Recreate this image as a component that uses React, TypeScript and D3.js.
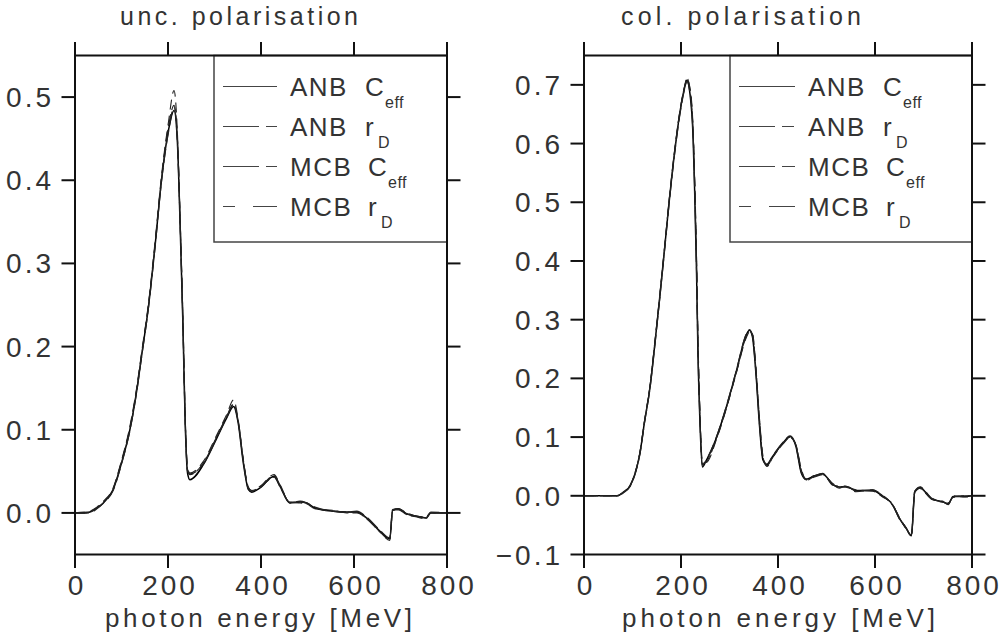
import React from "react";
import * as d3 from "d3";

// ---------- data ----------
const xTicks = [0, 200, 400, 600, 800];
const uncYTicks = [0.0, 0.1, 0.2, 0.3, 0.4, 0.5];
const colYTicks = [-0.1, 0.0, 0.1, 0.2, 0.3, 0.4, 0.5, 0.6, 0.7];
const legendNames = ["ANB", "ANB", "MCB", "MCB"];
const legendSymbols = ["C", "r", "C", "r"];
const legendSubs = ["eff", "D", "eff", "D"];

const uncEnergy = [0,20,32,47,61,82,100,118,133,143,158,172,186,201,213,220,226,232,237,242,247,276,305,326,341,351,362,373,380,398,428,441,462,484,498,516,556,584,606,627,656,677,683,695,713,735,755,765,800];
const uncAnbC = [0,0,0.001,0.006,0.012,0.028,0.06,0.10,0.148,0.188,0.248,0.32,0.40,0.46,0.484,0.448,0.348,0.228,0.108,0.048,0.040,0.058,0.09,0.114,0.128,0.108,0.06,0.028,0.025,0.03,0.044,0.032,0.012,0.013,0.012,0.006,0.002,0.001,0.001,-0.006,-0.022,-0.031,0.003,0.005,-0.001,-0.004,-0.006,0.0,0];
const uncAnbR = [0,0,0.001,0.006,0.013,0.029,0.062,0.102,0.15,0.19,0.25,0.322,0.402,0.465,0.49,0.452,0.35,0.23,0.11,0.05,0.046,0.06,0.092,0.116,0.131,0.11,0.062,0.03,0.027,0.031,0.043,0.031,0.013,0.012,0.011,0.005,0.003,0.0,0.0,-0.007,-0.023,-0.032,0.002,0.004,-0.002,-0.005,-0.007,0.0,0];
const uncMcbC = [0,0.001,0.0,0.005,0.012,0.027,0.059,0.099,0.147,0.187,0.247,0.319,0.399,0.458,0.488,0.45,0.352,0.232,0.112,0.052,0.047,0.059,0.091,0.115,0.13,0.11,0.063,0.029,0.026,0.031,0.045,0.033,0.012,0.014,0.012,0.007,0.002,0.001,0.002,-0.005,-0.021,-0.03,0.004,0.005,0.0,-0.004,-0.005,0.001,0];
const uncMcbR = [0,0,0.002,0.007,0.014,0.03,0.063,0.104,0.152,0.192,0.252,0.325,0.405,0.47,0.508,0.46,0.355,0.235,0.115,0.055,0.048,0.062,0.094,0.118,0.136,0.112,0.064,0.031,0.027,0.032,0.046,0.034,0.013,0.013,0.012,0.006,0.002,0.001,0.001,-0.006,-0.023,-0.033,0.003,0.004,-0.001,-0.004,-0.006,0.0,0];

const colEnergy = [0,40,68,81,95,105,115,125,136,146,156,167,175,187,197,208,212,218,225,228,232,235,239,244,252,273,293,314,335,341,347,355,362,369,377,389,410,425,437,448,458,475,492,513,526,540,561,595,616,636,650,664,675,682,694,705,718,739,751,761,787,800];
const colAnbC = [0,0,0,0.006,0.017,0.037,0.071,0.127,0.184,0.258,0.337,0.428,0.496,0.586,0.649,0.697,0.708,0.688,0.609,0.524,0.382,0.241,0.127,0.049,0.06,0.099,0.15,0.212,0.275,0.282,0.272,0.203,0.118,0.061,0.053,0.067,0.09,0.101,0.084,0.039,0.028,0.034,0.0375,0.019,0.015,0.016,0.009,0.009,-0.001,-0.015,-0.038,-0.055,-0.068,0.007,0.014,0.005,-0.006,-0.01,-0.014,-0.001,-0.001,0];
const colAnbR = [0,0,0,0.006,0.018,0.038,0.073,0.129,0.187,0.261,0.34,0.43,0.5,0.59,0.652,0.7,0.712,0.695,0.62,0.54,0.4,0.26,0.14,0.055,0.058,0.097,0.148,0.21,0.272,0.28,0.276,0.21,0.126,0.066,0.05,0.065,0.088,0.099,0.086,0.044,0.026,0.033,0.036,0.02,0.013,0.017,0.008,0.01,0.0,-0.016,-0.037,-0.056,-0.067,0.006,0.013,0.006,-0.005,-0.011,-0.013,-0.002,0.0,0];
const colMcbC = [0,0,0,0.005,0.016,0.036,0.07,0.126,0.183,0.256,0.335,0.426,0.494,0.584,0.646,0.695,0.706,0.69,0.615,0.532,0.39,0.25,0.133,0.052,0.061,0.1,0.151,0.213,0.276,0.283,0.274,0.206,0.122,0.063,0.054,0.068,0.091,0.102,0.085,0.041,0.029,0.034,0.038,0.018,0.016,0.015,0.01,0.008,-0.002,-0.014,-0.039,-0.054,-0.069,0.008,0.015,0.004,-0.006,-0.009,-0.015,0.0,-0.002,0];
const colMcbR = [0,0,0,0.006,0.017,0.038,0.072,0.128,0.186,0.26,0.338,0.43,0.498,0.588,0.65,0.699,0.71,0.697,0.625,0.545,0.41,0.27,0.145,0.06,0.057,0.096,0.147,0.209,0.27,0.279,0.278,0.212,0.13,0.068,0.051,0.066,0.089,0.1,0.087,0.046,0.027,0.032,0.036,0.021,0.014,0.016,0.007,0.01,0.001,-0.015,-0.036,-0.055,-0.066,0.005,0.012,0.006,-0.004,-0.011,-0.012,-0.003,0.0,0];

// ---------- styles ----------
const FONT = "'Liberation Sans', Arial, Helvetica, sans-serif";
const TXT = "#333";
const curveDash = [null, "12 4", "14 5", "10 6"];
const curveWidth = [1.5, 1.1, 1.3, 1.1];
const legendDash = [null, "36 7 12 60", "36 7 13 60", "12 18 26 60"];

type PanelProps = {
  title: string;
  titleX: number;
  titleLen: number;
  x0: number; x1: number;
  yDomain: [number, number];
  yTicks: number[];
  energy: number[];
  series: number[][];
  legendLeft: number;
  legendBottom: number;
  xLabelX: number;
  xLabelLen: number;
};

const TOP = 55.5;
const BOT = 554.5;

function Panel(p: PanelProps) {
  const x = d3.scaleLinear().domain([0, 800]).range([p.x0, p.x1]);
  const y = d3.scaleLinear().domain(p.yDomain).range([BOT, TOP]);
  const fmt = d3.format(".1f");
  const tl = 13.5;
  const lineGen = (vals: number[]) =>
    d3.line<number>().curve(d3.curveMonotoneX).x((_, i) => x(p.energy[i])).y((v) => y(v))(vals) || "";
  const lw = p.x1 - p.legendLeft;
  const wide = lw > 236 ? 2 : 0;
  const samp0 = p.legendLeft + 9;
  const samp1 = p.legendLeft + 63 + wide;
  return (
    <g>
      <text x={p.titleX} y={25} fontFamily={FONT} fontSize={25} fill={TXT}
        textLength={p.titleLen} lengthAdjust="spacing">{p.title}</text>
      {/* curves */}
      {p.series.map((s, i) => (
        <path key={i} d={lineGen(s)} fill="none" stroke={i === 0 ? "#000" : "#222"}
          strokeWidth={curveWidth[i]} strokeDasharray={curveDash[i] || undefined}
          strokeLinejoin="round" />
      ))}
      {/* legend */}
      <rect x={p.legendLeft} y={TOP} width={p.x1 - p.legendLeft} height={p.legendBottom - TOP}
        fill="#fff" stroke="#444" strokeWidth={1.5} />
      {legendNames.map((n, i) => {
        const base = 95.5 + i * 40;
        const isM = n === "MCB";
        const w2 = p.legendLeft + (isM ? 154 : 151) + wide;
        const isC = legendSymbols[i] === "C";
        return (
          <g key={i}>
            <line x1={samp0} x2={samp1} y1={base - 9} y2={base - 9} stroke="#444" strokeWidth={1.2}
              strokeDasharray={legendDash[i] || undefined} />
            <text x={p.legendLeft + 76 + wide} y={base} fontFamily={FONT} fontSize={26}
              fill={TXT} letterSpacing={1.5}>{n}</text>
            <text x={w2} y={base} fontFamily={FONT} fontSize={26} fill={TXT}>{legendSymbols[i]}</text>
            <text x={w2 + (isC ? 20 : 13)} y={base + 12} fontFamily={FONT} fontSize={16} fill={TXT}
              letterSpacing={0.5}>{legendSubs[i]}</text>
          </g>
        );
      })}
      {/* frame */}
      <rect x={p.x0} y={TOP} width={p.x1 - p.x0} height={BOT - TOP} fill="none" stroke="#111" strokeWidth={2} />
      {/* x ticks top/bottom */}
      {xTicks.map((t) => (
        <g key={"x" + t}>
          <line x1={x(t)} x2={x(t)} y1={BOT} y2={BOT + tl} stroke="#111" strokeWidth={2} />
          <line x1={x(t)} x2={x(t)} y1={TOP} y2={TOP - tl} stroke="#111" strokeWidth={2} />
          <text x={x(t) + 2} y={595} textAnchor="middle" fontFamily={FONT} fontSize={28} fill={TXT}
            letterSpacing={3}>{String(t)}</text>
        </g>
      ))}
      {/* y ticks left/right */}
      {p.yTicks.map((t) => (
        <g key={"y" + t}>
          <line x1={p.x0 - tl} x2={p.x0} y1={y(t)} y2={y(t)} stroke="#111" strokeWidth={2} />
          <line x1={p.x1} x2={p.x1 + tl} y1={y(t)} y2={y(t)} stroke="#111" strokeWidth={2} />
          <text x={p.x0 - 21} y={y(t) + 10} textAnchor="end" fontFamily={FONT} fontSize={28} fill={TXT}
            letterSpacing={3}>{fmt(t).replace("-", "\u2212")}</text>
        </g>
      ))}
      <text x={p.xLabelX} y={627} fontFamily={FONT} fontSize={26} fill={TXT}
        textLength={p.xLabelLen} lengthAdjust="spacing">photon energy [MeV]</text>
    </g>
  );
}

export default function App() {
  return (
    <div style={{ position: "absolute", left: 0, top: 0 }}>
      <svg width={1001} height={639} style={{ display: "block", background: "#fff" }}>
        <Panel title="unc. polarisation" titleX={120} titleLen={238} x0={75} x1={447}
          yDomain={[-0.05, 0.55]} yTicks={uncYTicks} energy={uncEnergy}
          series={[uncAnbC, uncAnbR, uncMcbC, uncMcbR]} legendLeft={214} legendBottom={242}
          xLabelX={105} xLabelLen={307} />
        <Panel title="col. polarisation" titleX={621} titleLen={240} x0={584} x1={972}
          yDomain={[-0.1, 0.75]} yTicks={colYTicks} energy={colEnergy}
          series={[colAnbC, colAnbR, colMcbC, colMcbR]} legendLeft={730} legendBottom={242}
          xLabelX={622} xLabelLen={313} />
      </svg>
    </div>
  );
}
